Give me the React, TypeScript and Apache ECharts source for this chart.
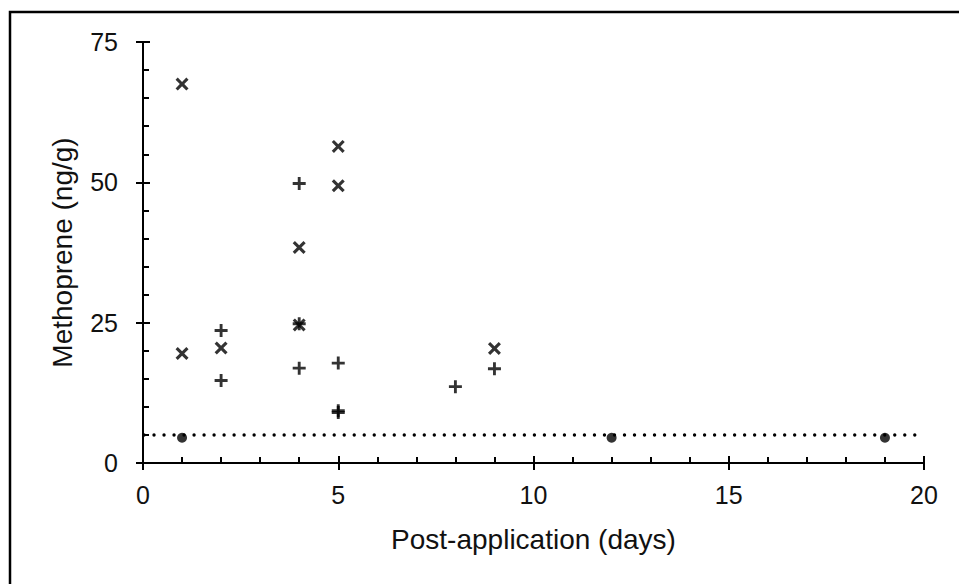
import React, { useEffect, useRef } from 'react';
import * as echarts from 'echarts';

// Tick values
const X_TICKS = [0, 5, 10, 15, 20];
const Y_TICKS = [0, 25, 50, 75];

// "×" samples
const crossDays = [1, 1, 2, 4, 4, 5, 5, 9];
const crossValues = [67.5, 19.5, 20.5, 38.4, 24.6, 56.4, 49.4, 20.4];

// "+" samples
const plusDays = [2, 2, 4, 4, 4, 5, 5, 5, 8, 9];
const plusValues = [23.6, 14.7, 49.8, 24.8, 16.9, 17.8, 9.3, 9.0, 13.6, 16.8];

// "●" samples (below detection limit)
const dotDays = [1, 12, 19];
const dotValues = [4.5, 4.5, 4.5];

// Detection limit line
const lodDays = [0, 20];
const lodValue = 5;

const FONT = 'Liberation Sans, Arial, sans-serif';
const TXT = '#111';

const CROSS_PATH =
  'path://M1.7,0L5,3.3L8.3,0L10,1.7L6.7,5L10,8.3L8.3,10L5,6.7L1.7,10L0,8.3L3.3,5L0,1.7Z';
const PLUS_PATH = 'path://M3.9,0H6.1V3.9H10V6.1H6.1V10H3.9V6.1H0V3.9H3.9Z';

function zip(xs: number[], ys: number[]) {
  return xs.map((x, i) => [x, ys[i]]);
}

export default function App() {
  const ref = useRef<HTMLDivElement>(null);
  useEffect(() => {
    document.body.style.margin = '0';
    const chart = echarts.init(ref.current as HTMLDivElement, null, { renderer: 'svg' });
    const xMin = X_TICKS[0];
    const xMax = X_TICKS[X_TICKS.length - 1];
    const xInt = X_TICKS[1] - X_TICKS[0];
    const yMin = Y_TICKS[0];
    const yMax = Y_TICKS[Y_TICKS.length - 1];
    const yInt = Y_TICKS[1] - Y_TICKS[0];
    const line = { color: '#000', width: 2 };
    const option: any = {
      animation: false,
      backgroundColor: '#fff',
      grid: { left: 143, right: 35, top: 42, bottom: 121, containLabel: false },
      graphic: [
        {
          type: 'rect',
          silent: true,
          shape: { x: 10, y: 12, width: 1200, height: 1200 },
          style: { fill: 'none', stroke: '#000', lineWidth: 2.5 },
        },
      ],
      xAxis: [
        {
          type: 'value',
          min: xMin,
          max: xMax,
          interval: xInt,
          position: 'bottom',
          axisLine: { show: true, onZero: false, lineStyle: line },
          axisTick: { show: true, inside: false, length: 7, lineStyle: line },
          minorTick: { show: false },
          axisLabel: { show: true, fontSize: 25, color: TXT, fontFamily: FONT, margin: 19 },
          splitLine: { show: false },
          name: 'Post-application (days)',
          nameLocation: 'middle',
          nameGap: 62,
          nameTextStyle: { fontSize: 28, color: TXT, fontFamily: FONT },
        },
        {
          type: 'value',
          min: xMin,
          max: xMax,
          interval: xInt,
          position: 'bottom',
          axisLine: { show: false, onZero: false },
          axisTick: { show: true, inside: true, length: 7, lineStyle: line },
          minorTick: { show: true, splitNumber: 5, length: 6, lineStyle: line },
          axisLabel: { show: false },
          splitLine: { show: false },
          minorSplitLine: { show: false },
        },
      ],
      yAxis: [
        {
          type: 'value',
          min: yMin,
          max: yMax,
          interval: yInt,
          position: 'left',
          axisLine: { show: true, onZero: false, lineStyle: line },
          axisTick: { show: true, inside: false, length: 7, lineStyle: line },
          minorTick: { show: false },
          axisLabel: { show: true, fontSize: 25, color: TXT, fontFamily: FONT, margin: 25 },
          splitLine: { show: false },
          name: 'Methoprene (ng/g)',
          nameLocation: 'middle',
          nameGap: 67,
          nameRotate: 90,
          nameTextStyle: { fontSize: 28, color: TXT, fontFamily: FONT },
        },
        {
          type: 'value',
          min: yMin,
          max: yMax,
          interval: yInt,
          position: 'left',
          axisLine: { show: false, onZero: false },
          axisTick: { show: true, inside: true, length: 7, lineStyle: line },
          minorTick: { show: true, splitNumber: 5, length: 6, lineStyle: line },
          axisLabel: { show: false },
          splitLine: { show: false },
          minorSplitLine: { show: false },
        },
      ],
      series: [
        {
          type: 'line',
          xAxisIndex: 0,
          yAxisIndex: 0,
          data: lodDays.map((d) => [d, lodValue]),
          showSymbol: false,
          symbol: 'none',
          lineStyle: { color: '#000', width: 3.4, type: [0.01, 10], cap: 'round', dashOffset: 9 },
          silent: true,
          z: 1,
        },
        {
          type: 'scatter',
          xAxisIndex: 0,
          yAxisIndex: 0,
          data: zip(dotDays, dotValues),
          symbol: 'circle',
          symbolSize: 10,
          itemStyle: { color: '#000' },
          z: 3,
        },
        {
          type: 'scatter',
          xAxisIndex: 0,
          yAxisIndex: 0,
          data: zip(crossDays, crossValues),
          symbol: CROSS_PATH,
          symbolSize: 13,
          itemStyle: { color: '#000' },
          z: 3,
        },
        {
          type: 'scatter',
          xAxisIndex: 0,
          yAxisIndex: 0,
          data: zip(plusDays, plusValues),
          symbol: PLUS_PATH,
          symbolSize: 13,
          itemStyle: { color: '#000' },
          z: 3,
        },
      ],
    };
    chart.setOption(option);
    return () => chart.dispose();
  }, []);
  return <div ref={ref} style={{ width: 959, height: 584, background: '#fff' }} />;
}
